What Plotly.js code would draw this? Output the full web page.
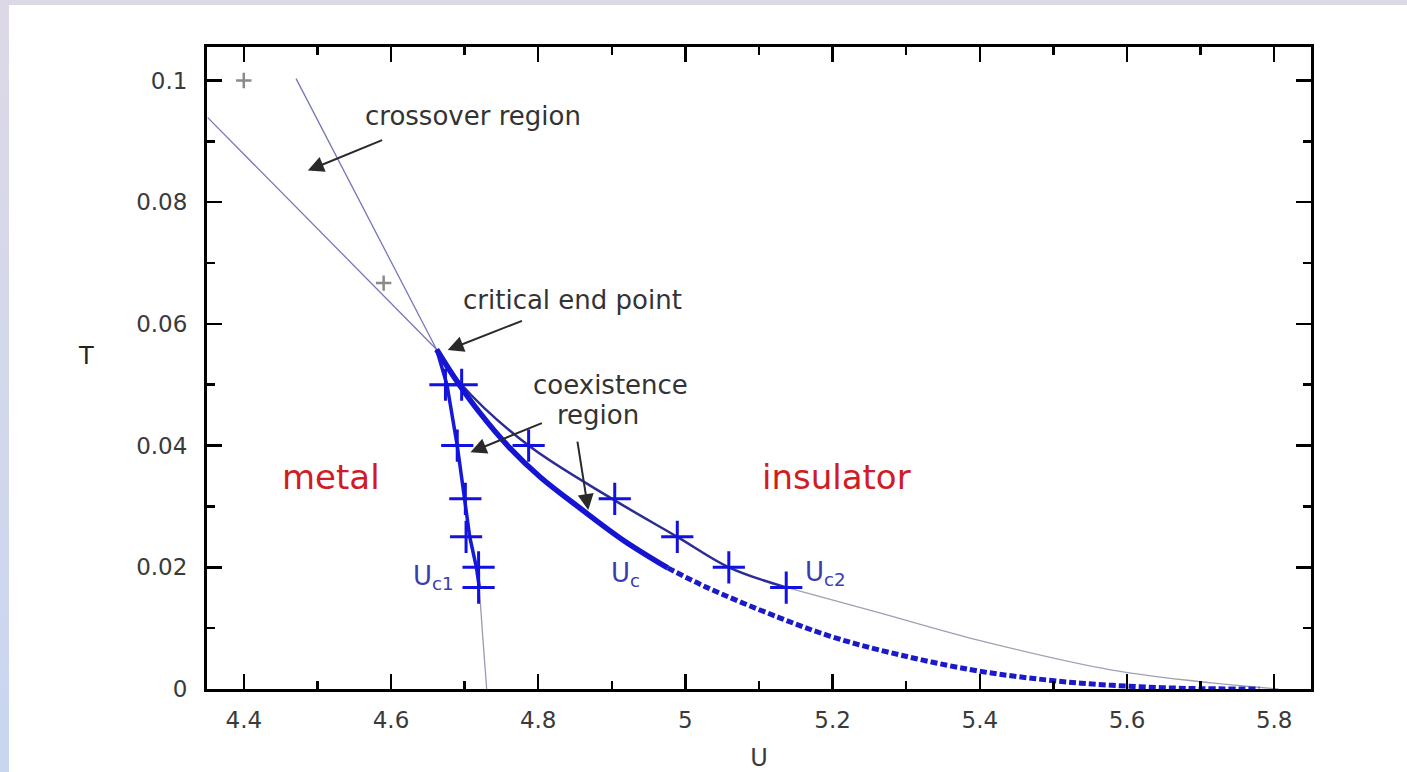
<!DOCTYPE html>
<html>
<head>
<meta charset="utf-8">
<script src="https://cdn.plot.ly/plotly-3.0.1.min.js"></script>
<style>
  html, body { margin: 0; padding: 0; width: 1407px; height: 772px; overflow: hidden; }
  body { background: linear-gradient(180deg, #ddd8e6 0%, #d3d8ec 50%, #c8d6f0 100%); position: relative; }
  #chart { position: absolute; left: 9px; top: 5px; width: 1398px; height: 767px; background: #ffffff; }
</style>
</head>
<body>
<div id="chart"></div>
<script>
// ---- data ----
// critical end point
const cepU = [4.662];
const cepT = [0.0558];

// crossover lines above the critical end point
const crossA_U = [4.351, 4.662];
const crossA_T = [0.0939, 0.0558];
const crossB_U = [4.471, 4.662];
const crossB_T = [0.1003, 0.0558];

// crossover data points (grey)
const greyU = [4.40, 4.59];
const greyT = [0.1, 0.0667];

// Uc1 data points
const uc1U = [4.674, 4.690, 4.701, 4.702, 4.719, 4.719];
const uc1T = [0.05, 0.04, 0.03125, 0.025, 0.02, 0.01667];
// Uc1 line (thick part) and its thin continuation to T=0
const uc1LineU = [4.662, 4.676, 4.690, 4.700, 4.707, 4.716, 4.720];
const uc1LineT = [0.0558, 0.05, 0.04, 0.031, 0.025, 0.02, 0.0167];
const uc1TailU = [4.720, 4.725, 4.730];
const uc1TailT = [0.0167, 0.008, 0.0];

// Uc2 data points
const uc2U = [4.696, 4.787, 4.904, 4.989, 5.059, 5.137];
const uc2T = [0.05, 0.04, 0.03125, 0.025, 0.02, 0.01667];
// Uc2 line and thin continuation
const uc2LineU = [4.662, 4.696, 4.787, 4.904, 4.989, 5.059, 5.137];
const uc2LineT = [0.0558, 0.05, 0.04, 0.031, 0.025, 0.02, 0.0167];
const uc2TailU = [5.137, 5.264, 5.399, 5.580, 5.715, 5.806];
const uc2TailT = [0.0167, 0.0125, 0.0080, 0.0031, 0.0010, 0.0];

// Uc (first-order line): solid part and dashed extrapolation
const ucU = [4.662, 4.690, 4.720, 4.760, 4.803, 4.857, 4.915, 4.976];
const ucT = [0.0558, 0.0505, 0.0455, 0.0398, 0.0348, 0.0297, 0.0245, 0.0199];
const ucDashU = [4.976, 5.029, 5.128, 5.196, 5.264, 5.386, 5.490, 5.580, 5.680, 5.780];
const ucDashT = [0.0199, 0.0167, 0.0117, 0.0087, 0.0064, 0.0032, 0.0015, 0.0006, 0.0001, 0.0];

// axis ticks
const xTicks = [4.4, 4.6, 4.8, 5.0, 5.2, 5.4, 5.6, 5.8];
const xTickText = ['4.4', '4.6', '4.8', '5', '5.2', '5.4', '5.6', '5.8'];
const yTicks = [0, 0.02, 0.04, 0.06, 0.08, 0.1];
const yTickText = ['0', '0.02', '0.04', '0.06', '0.08', '0.1'];

// ---- styles ----
const thin = {color: '#7676bc', width: 1.3};
const crossBlue = '#1212e0';

const traces = [
  {x: crossA_U, y: crossA_T, mode: 'lines', line: thin, hoverinfo: 'skip'},
  {x: crossB_U, y: crossB_T, mode: 'lines', line: thin, hoverinfo: 'skip'},
  {x: uc1TailU, y: uc1TailT, mode: 'lines', line: {color: '#9a9ab0', width: 1.3, shape: 'spline'}},
  {x: uc2TailU, y: uc2TailT, mode: 'lines', line: {color: '#a0a0b4', width: 1.3, shape: 'spline'}},
  {x: ucDashU, y: ucDashT, mode: 'lines', line: {color: '#1a1ac8', width: 5, dash: '7px,3px', shape: 'spline'}},
  {x: uc2LineU, y: uc2LineT, mode: 'lines', line: {color: '#2c2c96', width: 2.5, shape: 'spline'}},
  {x: uc1LineU, y: uc1LineT, mode: 'lines', line: {color: '#1818d8', width: 3.5}},
  {x: ucU, y: ucT, mode: 'lines', line: {color: '#1414d2', width: 5.5, shape: 'spline'}},
  {x: greyU, y: greyT, mode: 'markers',
   marker: {symbol: 'cross-thin', size: 11, line: {color: '#8a8a8a', width: 2.5}}},
  {x: uc1U, y: uc1T, mode: 'markers',
   marker: {symbol: 'cross-thin', size: 23, line: {color: crossBlue, width: 3}}},
  {x: uc2U, y: uc2T, mode: 'markers',
   marker: {symbol: 'cross-thin', size: 23, line: {color: crossBlue, width: 3}}}
];

const FONT = 'DejaVu Sans, Arial, sans-serif';
const txt = (x, y, t, size, color, extra) => Object.assign({
  x: x, y: y, xref: 'x', yref: 'y', text: t, showarrow: false,
  font: {family: FONT, size: size, color: color}, xanchor: 'center', yanchor: 'middle'
}, extra || {});
const arrow = (tx, ty, hx, hy) => ({
  x: hx, y: hy, ax: tx, ay: ty, xref: 'x', yref: 'y', axref: 'x', ayref: 'y',
  text: '', showarrow: true, arrowhead: 2, arrowsize: 1.6, arrowwidth: 2, arrowcolor: '#2a2a2a'
});

const annotations = [
  txt(4.711, 0.0941, 'crossover region', 26, '#333333'),
  arrow(4.590, 0.0903, 4.487, 0.0852),
  txt(4.847, 0.0639, 'critical end point', 26, '#333333'),
  arrow(4.780, 0.0606, 4.677, 0.0557),
  txt(4.898, 0.0499, 'coexistence', 26, '#333333'),
  txt(4.881, 0.0450, 'region', 26, '#333333'),
  arrow(4.807, 0.0438, 4.708, 0.0389),
  arrow(4.853, 0.0409, 4.868, 0.0294),
  txt(4.518, 0.0348, 'metal', 34, '#d01c24'),
  txt(5.205, 0.0348, 'insulator', 34, '#d01c24'),
  txt(4.658, 0.0184, 'U<sub>c1</sub>', 26, '#3b3bb0'),
  txt(4.918, 0.0188, 'U<sub>c</sub>', 26, '#3b3bb0'),
  txt(5.190, 0.0190, 'U<sub>c2</sub>', 26, '#3b3bb0'),
  // y-axis title, drawn horizontally as in the reference
  {x: -0.11, y: 0.0548, xref: 'paper', yref: 'y', text: 'T', showarrow: false,
   font: {family: FONT, size: 24, color: '#222222'}, xanchor: 'center', yanchor: 'middle'}
];

const axisCommon = {
  showgrid: false, zeroline: false, showline: true, linecolor: '#000000', linewidth: 3,
  mirror: 'allticks', ticks: 'inside', ticklen: 15, tickwidth: 2.5, tickcolor: '#000000',
  tickfont: {family: FONT, size: 23, color: '#3a3a3a'},
};

const layout = {
  width: 1398, height: 767,
  margin: {l: 198, r: 96, t: 42, b: 83},
  paper_bgcolor: '#ffffff', plot_bgcolor: '#ffffff',
  showlegend: false,
  xaxis: Object.assign({}, axisCommon, {
    range: [4.35, 5.85], tickmode: 'array', tickvals: xTicks, ticktext: xTickText,
    minor: {dtick: 0.1, tick0: 4.4, ticks: 'inside', ticklen: 8, tickwidth: 2.5, tickcolor: '#000000', showgrid: false},
    ticklabelstandoff: 8,
    title: {text: 'U', font: {family: FONT, size: 24, color: '#3a3a3a'}, standoff: 40}
  }),
  yaxis: Object.assign({}, axisCommon, {
    range: [0, 0.1055], tickmode: 'array', tickvals: yTicks, ticktext: yTickText,
    minor: {dtick: 0.01, tick0: 0, ticks: 'inside', ticklen: 8, tickwidth: 2.5, tickcolor: '#000000', showgrid: false},
    ticklabelstandoff: 12
  }),
  annotations: annotations
};

Plotly.newPlot('chart', traces, layout, {displayModeBar: false, staticPlot: true});
</script>
</body>
</html>
